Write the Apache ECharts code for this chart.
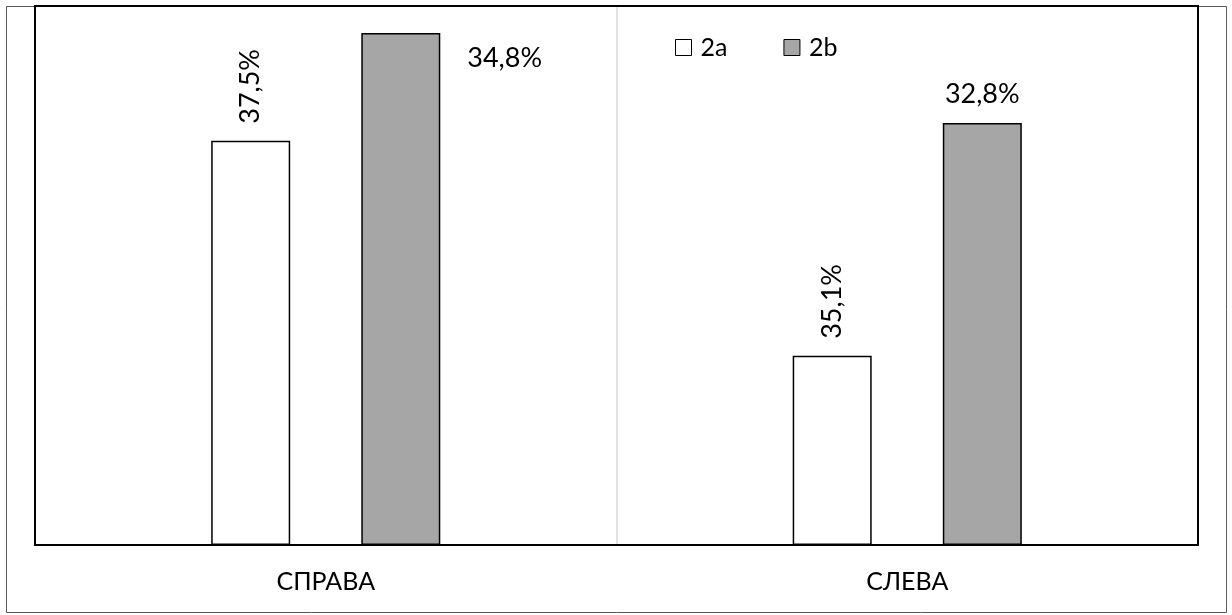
<!DOCTYPE html>
<html>
<head>
<meta charset="utf-8">
<script src="https://cdn.jsdelivr.net/npm/echarts@6/dist/echarts.min.js"></script>
<style>
  html, body { margin: 0; padding: 0; background: #fff; }
  #chart { width: 1232px; height: 615px; }
</style>
</head>
<body>
<div id="chart"></div>
<script>
// Categories and series
var categories = ['СПРАВА', 'СЛЕВА'];
var seriesNames = ['2a', '2b'];
// Bar heights on the (hidden) value axis
var values2a = [75.0, 35.1];
var values2b = [95.0, 78.3];
// Percent labels printed by the bars
var labels2a = ['37,5%', '35,1%'];
var labels2b = ['34,8%', '32,8%'];

var FONT = 'Lato, "Open Sans", sans-serif';

// Plot area box (pixels)
var G = { left: 35, right: 34, top: 6, bottom: 70 };
var W = 1232, H = 615;

var chart = echarts.init(document.getElementById('chart'), null, { renderer: 'canvas' });

var barBase = {
  type: 'bar',
  barWidth: 79,
  barGap: '90%',
  animation: false
};

// The tall 2b bar in the first group carries its label to the right side
var data2b = values2b.map(function (v, i) {
  if (i === 0) {
    return {
      value: v,
      label: { position: [106, 25], align: 'left', verticalAlign: 'middle' }
    };
  }
  return v;
});

chart.setOption({
  backgroundColor: '#fff',
  textStyle: { fontFamily: FONT },
  grid: {
    left: G.left, right: G.right, top: G.top, bottom: G.bottom,
    show: false,
    containLabel: false
  },
  legend: {
    left: 670, top: 30,
    itemWidth: 16, itemHeight: 16, itemGap: 56,
    icon: 'rect',
    data: seriesNames,
    itemStyle: { borderWidth: 1, borderColor: '#000' },
    textStyle: { fontSize: 25, color: '#000', fontFamily: FONT, padding: [0, 0, 0, 4] }
  },
  xAxis: {
    type: 'category',
    data: categories,
    axisLine: { lineStyle: { color: '#000', width: 2 } },
    axisTick: { show: false },
    splitLine: { show: true, lineStyle: { color: '#d9d9d9', width: 1.5 } },
    axisLabel: { fontSize: 25, color: '#000', margin: 24, fontFamily: FONT }
  },
  yAxis: {
    type: 'value',
    min: 0, max: 100,
    show: false,
    splitLine: { show: false }
  },
  series: [
    Object.assign({}, barBase, {
      name: seriesNames[0],
      data: values2a,
      itemStyle: { color: '#ffffff', borderColor: '#000', borderWidth: 1.5 },
      label: {
        show: true,
        position: 'top',
        rotate: 90,
        align: 'left',
        verticalAlign: 'middle',
        distance: 17,
        fontSize: 27,
        color: '#000',
        fontFamily: FONT,
        formatter: function (p) { return labels2a[p.dataIndex]; }
      }
    }),
    Object.assign({}, barBase, {
      name: seriesNames[1],
      data: data2b,
      itemStyle: { color: '#a6a6a6', borderColor: '#000', borderWidth: 1.5 },
      label: {
        show: true,
        position: 'top',
        distance: 15,
        fontSize: 27,
        color: '#000',
        fontFamily: FONT,
        formatter: function (p) { return labels2b[p.dataIndex]; }
      }
    })
  ],
  graphic: [{
    // outer chart frame
    type: 'rect',
    shape: { x: 6.5, y: 6.5, width: 1220, height: 606 },
    style: { fill: 'none', stroke: '#595959', lineWidth: 1 },
    silent: true,
    z: 1
  }, {
    // plot area frame
    type: 'rect',
    shape: { x: G.left, y: G.top, width: W - G.left - G.right, height: H - G.top - G.bottom },
    style: { fill: 'none', stroke: '#000', lineWidth: 2 },
    silent: true,
    z: 100
  }]
});
</script>
</body>
</html>
